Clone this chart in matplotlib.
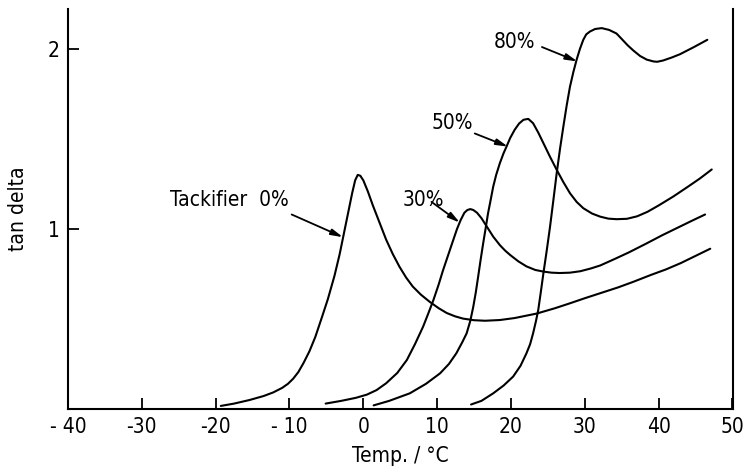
import matplotlib
matplotlib.use("Agg")
import matplotlib.pyplot as plt

plt.rcParams['font.family'] = ['DejaVu Sans']
plt.rcParams['font.stretch'] = 'condensed'

# Tackifier 0%
t0 = [-19.3, -17.5, -15.4, -13.5, -12.2, -11.0, -10.2, -9.5, -8.8, -8.1, -7.3, -6.5, -5.6, -4.8, -3.9, -3.2,
      -2.6, -2.0, -1.5, -1.1, -0.75, -0.4, 0.0, 0.6, 1.3, 2.2, 3.1, 4.0, 4.9, 5.8, 6.7, 7.8, 9.0, 10.2, 11.3,
      12.4, 13.5, 15.0, 16.5, 18.5, 20.5, 23.5, 26.0, 28.0, 30.0, 32.1, 34.5, 36.5, 39.0, 41.0, 43.0, 45.0, 47.0]
y0 = [0.017, 0.03, 0.05, 0.072, 0.092, 0.117, 0.14, 0.168, 0.205, 0.255, 0.32, 0.40, 0.51, 0.61, 0.74, 0.86,
      0.98, 1.10, 1.20, 1.27, 1.30, 1.295, 1.27, 1.21, 1.13, 1.035, 0.94, 0.86, 0.79, 0.73, 0.68, 0.635, 0.595, 0.56, 0.533,
      0.515, 0.502, 0.493, 0.49, 0.494, 0.505, 0.53, 0.56, 0.587, 0.615, 0.643, 0.675, 0.705, 0.745, 0.775, 0.81, 0.85, 0.89]

# 30%
t30 = [-5.1, -3.0, -1.0, 0.5, 1.8, 3.1, 4.6, 5.9, 7.0, 8.1, 8.8, 9.5, 10.2, 10.8, 11.5, 12.2, 12.7, 13.2, 13.7,
       14.1, 14.5, 14.9, 15.4, 16.0, 16.7, 17.6, 18.5, 19.2, 19.9, 21.0, 22.1, 23.3, 24.4, 25.5, 26.6, 28.0, 29.4,
       30.8, 32.1, 34.0, 36.0, 38.4, 40.5, 42.5, 44.5, 46.3]
y30 = [0.03, 0.045, 0.062, 0.08, 0.105, 0.143, 0.20, 0.272, 0.36, 0.457, 0.53, 0.605, 0.69, 0.77, 0.855, 0.94, 1.0, 1.05, 1.09,
       1.105, 1.11, 1.105, 1.09, 1.06, 1.015, 0.957, 0.91, 0.88, 0.855, 0.82, 0.792, 0.772, 0.763, 0.757, 0.755, 0.757, 0.765,
       0.78, 0.797, 0.832, 0.87, 0.92, 0.965, 1.005, 1.045, 1.08]

# 50%
t50 = [1.4, 3.5, 6.3, 8.5, 10.4, 11.6, 12.6, 13.4, 14.0, 14.5, 14.9, 15.25, 15.56, 15.9, 16.24, 16.6, 16.9,
       17.25, 17.6, 18.0, 18.5, 19.0, 19.4, 19.9, 20.5, 21.1, 21.7, 22.35, 23.0, 23.7, 24.4, 25.3, 26.2, 27.1,
       28.0, 28.9, 29.8, 31.0, 32.1, 33.2, 34.3, 35.7, 37.1, 38.5, 40.0, 42.0, 44.0, 45.6, 47.2]
y50 = [0.02, 0.045, 0.087, 0.14, 0.198, 0.25, 0.309, 0.37, 0.42, 0.49, 0.568, 0.65, 0.735, 0.83, 0.92, 1.01, 1.087,
       1.16, 1.235, 1.30, 1.365, 1.42, 1.457, 1.505, 1.55, 1.585, 1.606, 1.611, 1.587, 1.535, 1.476, 1.40, 1.328, 1.26,
       1.198, 1.15, 1.115, 1.085, 1.068, 1.057, 1.054, 1.056, 1.07, 1.095, 1.13, 1.18, 1.235, 1.28, 1.33]

# 80%
t80 = [14.6, 16.0, 17.6, 19.0, 20.3, 21.3, 22.1, 22.6, 23.0, 23.4, 23.7, 24.05, 24.4, 24.85, 25.3, 25.75, 26.2,
       26.65, 27.1, 27.55, 28.0, 28.45, 28.9, 29.35, 29.8, 30.2, 30.7, 31.4, 32.3, 33.3, 34.3, 35.0, 35.8, 36.6,
       37.5, 38.4, 39.3, 39.8, 40.6, 41.8, 42.9, 44.8, 46.6]
y80 = [0.025, 0.045, 0.087, 0.13, 0.18, 0.24, 0.309, 0.36, 0.42, 0.49, 0.55, 0.65, 0.754, 0.88, 1.013, 1.16, 1.31,
       1.445, 1.568, 1.685, 1.79, 1.87, 1.94, 2.0, 2.05, 2.08, 2.096, 2.11, 2.115, 2.105, 2.085, 2.055, 2.02, 1.99,
       1.96, 1.94, 1.93, 1.928, 1.935, 1.952, 1.97, 2.01, 2.05]

xticks = [-40, -30, -20, -10, 0, 10, 20, 30, 40, 50]
xticklabels = ['- 40', '-30', '-20', '- 10', '0', '10', '20', '30', '40', '50']
yticks = [1, 2]
yticklabels = ['1', '2']

labels = ['Tackifier  0%', '30%', '50%', '80%']
label_pos = [(-18.1, 1.16), (8.2, 1.16), (12.06, 1.59), (20.5, 2.04)]
arrow_from = [(-9.7, 1.08), (9.24, 1.15), (15.1, 1.53), (24.2, 2.01)]
arrow_to = [(-2.75, 0.954), (13.08, 1.035), (19.6, 1.457), (29.0, 1.93)]

fig = plt.figure(figsize=(7.44, 4.72), dpi=100)
ax = fig.add_axes([0.0914, 0.1335, 0.894, 0.847])

for t, y in [(t0, y0), (t30, y30), (t50, y50), (t80, y80)]:
    ax.plot(t, y, color='black', lw=1.5, solid_capstyle='round', solid_joinstyle='round')

for txt, pos in zip(labels, label_pos):
    ax.text(pos[0], pos[1], txt, fontsize=15, ha='center', va='center')
for a, b in zip(arrow_from, arrow_to):
    ax.annotate('', xy=b, xytext=a,
                arrowprops=dict(arrowstyle='-|>,head_length=0.7,head_width=0.18', color='black', lw=1.3,
                                shrinkA=0, shrinkB=0))

ax.set_xlim(-40, 50.1)
ax.set_ylim(0, 2.22)
ax.set_xticks(xticks)
ax.set_xticklabels(xticklabels)
ax.set_yticks(yticks)
ax.set_yticklabels(yticklabels)
ax.tick_params(direction='in', length=8, width=1.3, labelsize=15, pad=6)
ax.spines['top'].set_visible(False)
for s in ['left', 'bottom', 'right']:
    ax.spines[s].set_linewidth(1.5)
ax.set_xlabel('Temp. / °C', fontsize=15, labelpad=6)
ax.set_ylabel('tan delta', fontsize=15, labelpad=14)

fig.savefig('out.png', dpi=100)
